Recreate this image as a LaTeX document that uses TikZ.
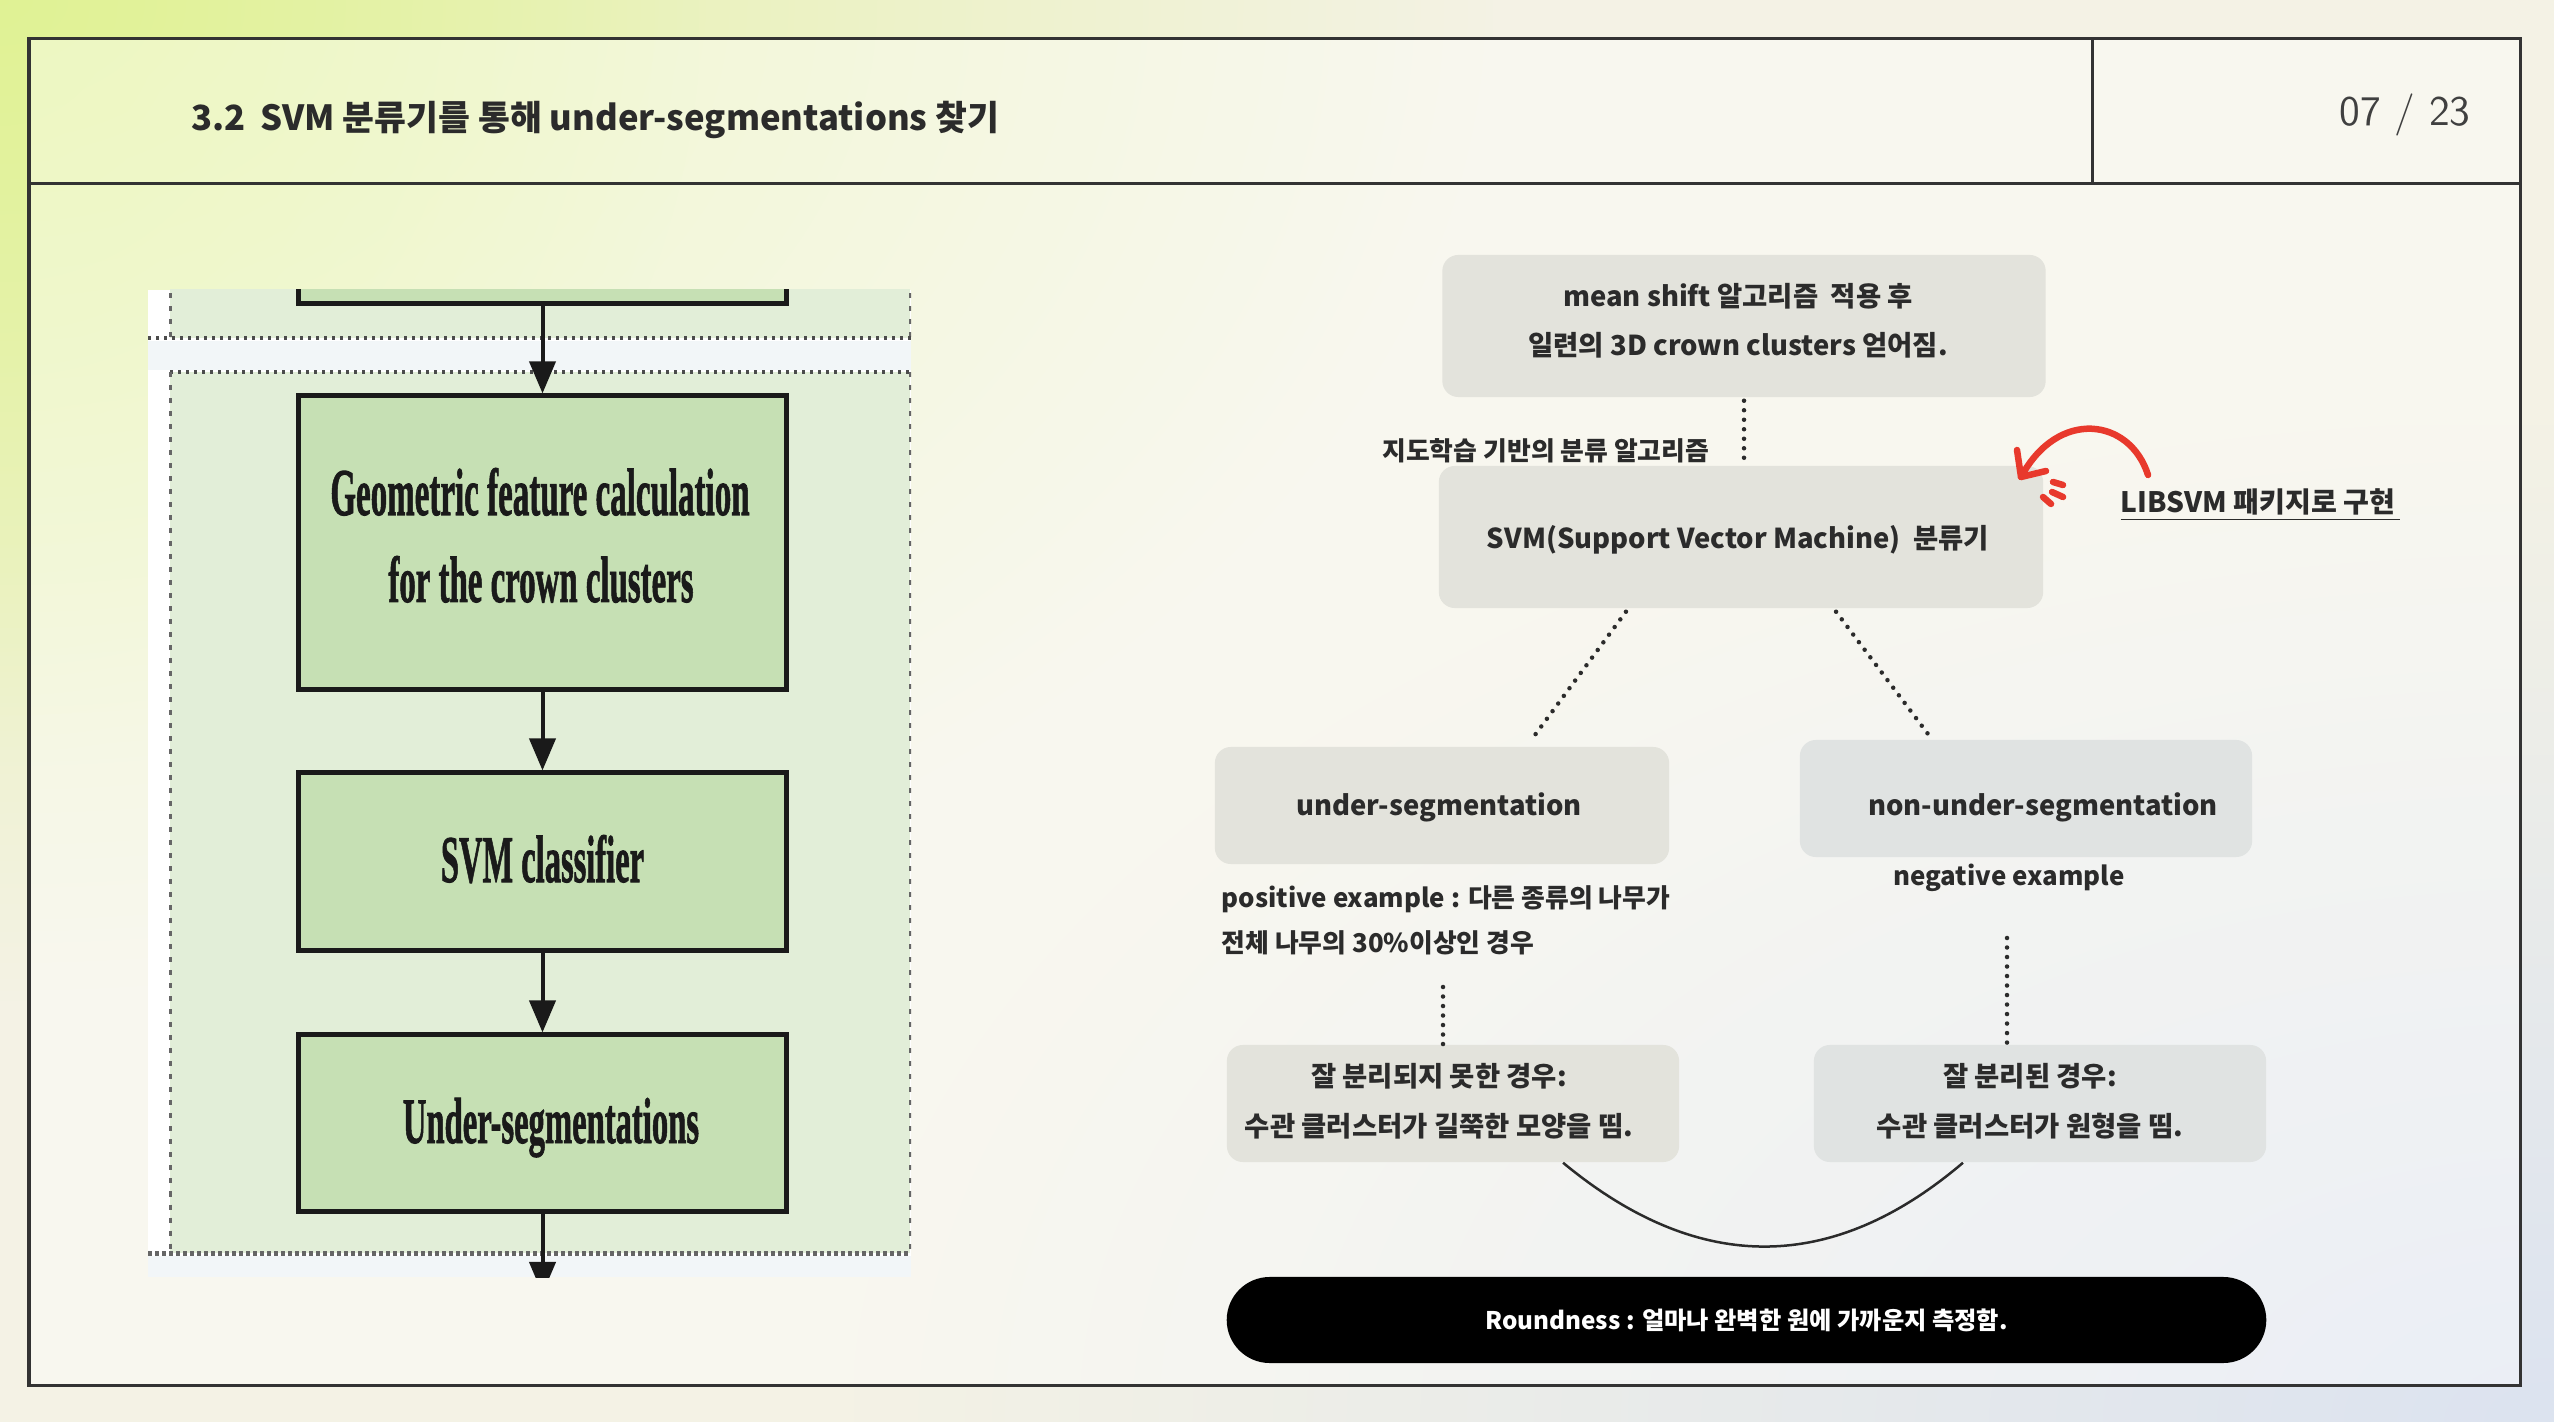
\documentclass[tikz,border=0pt]{standalone}
\usepackage{fontspec}
\setmainfont{Noto Sans CJK KR}
\newfontfamily\serifimg{Liberation Serif}[BoldFeatures={FakeBold=1.5}]
\usetikzlibrary{arrows.meta,calc,fadings}
\definecolor{ink}{HTML}{2B2B2B}
\definecolor{boxg}{HTML}{E3E3DC}
\definecolor{boxgb}{HTML}{E0E3E2}
\definecolor{framec}{HTML}{333333}
\definecolor{redc}{HTML}{E8392C}
\definecolor{imggreen}{HTML}{C6E0B4}
\definecolor{imgregion}{HTML}{E2EED8}
\definecolor{imgband}{HTML}{F2F6F8}
\definecolor{imgline}{HTML}{1A1A1A}
\definecolor{cY}{HTML}{DFF38E}
\definecolor{cC}{HTML}{F4F2E5}
\definecolor{cB}{HTML}{DCE3F0}
\tikzfading[name=radfade, inner color=transparent!0, outer color=transparent!100]
\begin{document}
\begin{tikzpicture}[x=0.01cm,y=-0.01cm,
  box/.style={draw=none, fill=boxg, rounded corners=0.16cm, inner sep=0pt},
  btxt/.style={font=\bfseries\fontsize{7.8}{13.9}\selectfont, text=ink, align=center, inner sep=0pt},
  lbl/.style={font=\bfseries\fontsize{7.35}{12.8}\selectfont, text=ink, inner sep=0pt},
  dotline/.style={line width=0.045cm, dash pattern=on 0pt off 0.095cm, line cap=round, draw=ink},
  framel/.style={draw=framec, line width=0.03cm},
  gbox/.style={draw=imgline, line width=0.05cm, fill=imggreen, inner sep=0pt, minimum width=4.87cm},
  imgtxt/.style={font=\serifimg\bfseries, text=imgline, inner sep=0pt, anchor=base},
  iarrow/.style={line width=0.04cm, draw=imgline, -{Triangle[length=0.32cm,width=0.26cm]}},
  imgdash/.style={line width=0.03cm, dash pattern=on 0.05cm off 0.08cm, draw=black!60},
  imgdot/.style={line width=0.035cm, dash pattern=on 0.03cm off 0.05cm, draw=black!70},
  imgdotheavy/.style={line width=0.05cm, dash pattern=on 0.04cm off 0.03cm, draw=black!60},
  redline/.style={draw=redc, line width=0.065cm, line cap=round, line join=round},
  pill/.style={fill=black, rounded corners=0.43cm, minimum width=10.39cm, minimum height=0.86cm, inner sep=0pt, text=white, font=\bfseries\fontsize{6.9}{9}\selectfont},
]
\useasboundingbox (0,0) rectangle (2554,1422);
% background
\fill[cC] (0,0) rectangle (2554,1422);
\begin{scope}
\clip (0,0) rectangle (2554,1422);
\fill[cB, path fading=radfade] (2554-1700,1422-1000) rectangle (2554+1700,1422+1000);
\fill[cY, path fading=radfade, opacity=0.8] (-1500,-1000) rectangle (1500,1000);
\fill[cY, path fading=radfade, opacity=0.6] (-700,-750) rectangle (700,750);
\end{scope}
% frame
\fill[white, opacity=0.42] (29,39) rectangle (2520,1385);
\draw[framel] (29,39) rectangle (2520,1385);
\draw[framel] (29,184) -- (2520,184);
\draw[framel] (2092,39) -- (2092,184);
\node[font=\bfseries\fontsize{9.85}{12}\selectfont, text=ink, anchor=west, inner sep=0pt] (title) at (191,120) {3.2\hspace{0.14cm}SVM 분류기를 통해 under-segmentations 찾기};
\node[font=\sffamily\fontsize{12}{14}\selectfont, text=black!75, inner sep=0pt] (page) at (2405,115) {07 / 23};
% left image
\fill[white] (148,290) rectangle (911,1277);
\begin{scope}
\clip (148,290) rectangle (911,1277);
\fill[imgregion] (170,280) rectangle (910,338);
\fill[imgband] (148,341) rectangle (911,370);
\fill[imgregion] (170,372) rectangle (910,1253);
\fill[imgband] (148,1256) rectangle (911,1277);
\draw[imgdash] (170,280) -- (170,338);
\draw[imgdash] (910,280) -- (910,338);
\draw[imgdot] (148,338) -- (911,338);
\draw[imgdot] (170,372) -- (910,372);
\draw[imgdash] (170,372) -- (170,1253);
\draw[imgdash] (910,372) -- (910,1253);
\draw[imgdotheavy] (148,1253) -- (911,1253);
\node[gbox, minimum height=0.6cm, anchor=south] (gtop) at (542.5,306) {};
\node[gbox, minimum height=2.93cm] (geo) at (542.5,542.5) {};
\node[gbox, minimum height=1.77cm] (svmc) at (542.5,861.5) {};
\node[gbox, minimum height=1.76cm] (unders) at (542.5,1123) {};
\node[imgtxt] (geoa) at (540,515) {\resizebox{4.19cm}{0.47cm}{Geometric feature calculation}};
\node[imgtxt] (geob) at (541,602) {\resizebox{3.05cm}{0.46cm}{for the crown clusters}};
\node[imgtxt] (svmct) at (542.5,882) {\resizebox{2.03cm}{0.47cm}{SVM classifier}};
\node[imgtxt] (underst) at (551,1143) {\resizebox{2.96cm}{0.45cm}{Under-segmentations}};
\coordinate (iout) at (542.5,1294);
\draw[iarrow] (gtop) -- (geo);
\draw[iarrow] (geo) -- (svmc);
\draw[iarrow] (svmc) -- (unders);
\draw[iarrow] (unders) -- (iout);
\end{scope}
% right diagram
\node[box, minimum width=6.03cm, minimum height=1.42cm] (mean) at (1744,326) {};
\node[btxt] (meant) at (1738,321) {mean shift 알고리즘\ \ 적용 후\\일련의 3D crown clusters 얻어짐.};
\node[box, minimum width=6.04cm, minimum height=1.42cm] (svm) at (1741,537) {};
\node[btxt] (svmt) at (1738,540) {SVM(Support Vector Machine)\ \ 분류기};
\node[lbl, anchor=east] (sup) at (1710,451) {지도학습 기반의 분류 알고리즘};
\node[lbl, anchor=west, font=\bfseries\fontsize{8}{9}\selectfont] (lib) at (2120,505) {\underline{LIBSVM 패키지로 구현\,}};
\node[box, minimum width=4.54cm, minimum height=1.17cm] (under) at (1442,805.5) {};
\node[btxt] (undert) at (1439,807) {under-segmentation};
\node[box, fill=boxgb, minimum width=4.52cm, minimum height=1.17cm] (non) at (2026,798.5) {};
\node[btxt] (nont) at (2043,807) {non-under-segmentation};
\node[lbl] (neg) at (2009,878) {negative example};
\node[lbl, anchor=west, align=left] (pos) at (1221,920) {positive example : 다른 종류의 나무가\\전체 나무의 30\%이상인 경우};
\node[box, minimum width=4.52cm, minimum height=1.17cm] (bl) at (1453,1103.5) {};
\node[btxt, font=\bfseries\fontsize{7.8}{14.2}\selectfont] (blt) at (1439,1101) {잘 분리되지 못한 경우:\\수관 클러스터가 길쭉한 모양을 띰.};
\node[box, fill=boxgb, minimum width=4.52cm, minimum height=1.17cm] (br) at (2040,1103.5) {};
\node[btxt, font=\bfseries\fontsize{7.8}{14.2}\selectfont] (brt) at (2030,1101) {잘 분리된 경우:\\수관 클러스터가 원형을 띰.};
\node[pill] (round) at (1746.5,1320) {Roundness : 얼마나 완벽한 원에 가까운지 측정함.};
% connectors
\draw[dotline] ([yshift=-0.03cm]mean.south) -- ([yshift=0.07cm]mean.south |- svm.north);
\draw[dotline] ([xshift=-1.15cm,yshift=-0.03cm]svm.south) -- ([xshift=0.89cm, yshift=0.06cm]under.north);
\draw[dotline] ([xshift=0.95cm,yshift=-0.03cm]svm.south) -- ([xshift=-0.94cm]non.north);
\coordinate (pl) at (1443,987);
\draw[dotline] (pl) -- (pl |- bl.north);
\coordinate (pr) at (2007,938);
\draw[dotline] (pr) -- (pr |- br.north);
\draw[draw=ink, line width=0.025cm] ([xshift=1.1cm]bl.south) .. controls (1696,1273) and (1830,1276) .. ([xshift=-0.77cm]br.south);
% red arrow
\coordinate (rs) at (2148,475);
\coordinate (rt) at (2021,477);
\draw[redline] (rs) .. controls (2130,418) and (2058,408) .. (rt);
\draw[redline] (2017,450) -- (rt) -- (2046,471);
\draw[redline] (2053,482) -- (2063,485);
\draw[redline] (2052,492) -- (2063,497);
\draw[redline] (2043,497) -- (2051,504);
\end{tikzpicture}
\end{document}
